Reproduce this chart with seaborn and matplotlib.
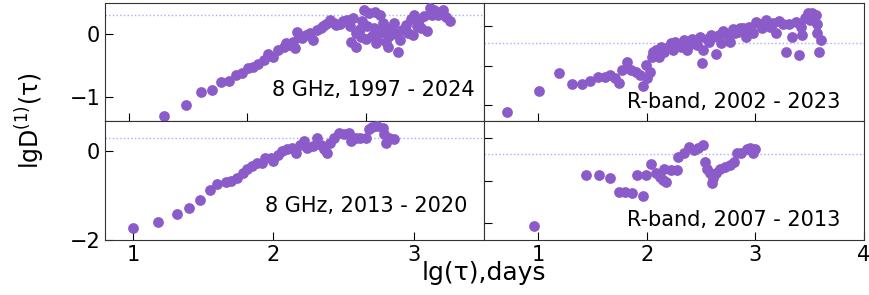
import matplotlib
matplotlib.use("Agg")
import matplotlib.pyplot as plt
import numpy as np
import pandas as pd
import seaborn as sns

# 8 GHz, 1997 - 2024
lg_tau_8a = [1.30, 1.48, 1.61, 1.70, 1.78, 1.85, 1.91, 1.96, 2.01, 2.05, 2.09, 2.14,
             2.18, 2.22, 2.26, 2.31, 2.35, 2.39, 2.42, 2.40, 2.46, 2.50, 2.56, 2.59,
             2.64, 2.70, 2.75, 2.81, 2.87, 2.89, 2.92, 2.88, 2.92, 2.99, 3.03, 3.08,
             3.12, 3.01, 3.05, 3.09, 3.12, 3.15, 3.19, 3.20, 3.24, 3.27, 3.29, 3.31,
             3.34, 3.40, 3.41, 3.45, 3.47, 3.52, 3.54, 3.58, 3.61, 3.65, 3.68, 3.71,
             2.33, 2.44, 2.53, 2.62, 2.67, 2.73, 2.78, 2.84, 2.95, 2.97, 3.00, 3.07,
             3.14, 3.17, 3.22, 3.26, 3.36, 3.38, 3.43, 3.49, 3.56, 2.96, 3.10, 3.18]
lgD_8a = [-1.30, -1.12, -0.92, -0.89, -0.76, -0.74, -0.65, -0.62, -0.54, -0.52, -0.47, -0.41,
          -0.32, -0.36, -0.25, -0.20, -0.17, -0.12, 0.03, -0.23, -0.07, -0.02, -0.10, 0.06,
          0.12, 0.22, 0.14, 0.20, 0.12, 0.25, 0.01, -0.12, -0.20, 0.38, 0.33, 0.35,
          0.30, 0.12, -0.04, -0.15, 0.01, 0.17, -0.20, -0.04, 0.17, -0.28, -0.10, 0.06,
          0.14, -0.02, 0.30, 0.22, 0.09, 0.04, 0.41, 0.38, 0.30, 0.38, 0.27, 0.20,
          -0.15, -0.05, 0.02, 0.10, 0.16, 0.18, 0.16, 0.22, 0.08, 0.20, -0.08, 0.10,
          0.05, -0.12, 0.08, 0.00, 0.02, 0.24, 0.12, 0.28, 0.30, -0.05, -0.10, 0.10]

# 8 GHz, 2013 - 2020
lg_tau_8b = [1.00, 1.18, 1.31, 1.40, 1.48, 1.55, 1.60, 1.66, 1.70, 1.74, 1.78, 1.81,
             1.85, 1.88, 1.92, 1.94, 1.98, 2.00, 2.03, 2.06, 2.10, 2.13, 2.16, 2.19,
             2.22, 2.24, 2.28, 2.31, 2.34, 2.36, 2.38, 2.40, 2.43, 2.47, 2.50, 2.54,
             2.55, 2.59, 2.62, 2.66, 2.68, 2.70, 2.74, 2.78, 2.79, 2.80, 2.82, 2.86]
lgD_8b = [-1.74, -1.59, -1.42, -1.27, -1.10, -0.87, -0.73, -0.70, -0.66, -0.61, -0.49, -0.40,
          -0.34, -0.26, -0.26, -0.15, -0.15, -0.23, -0.08, 0.00, 0.04, 0.08, -0.04, 0.15,
          0.23, 0.08, 0.11, 0.30, 0.15, 0.04, -0.04, 0.19, 0.30, 0.42, 0.38, 0.42,
          0.23, 0.30, 0.30, 0.30, 0.49, 0.55, 0.57, 0.53, 0.38, 0.19, 0.30, 0.27]

# R-band, 2002 - 2023
lg_tau_Ra = [0.71, 1.01, 1.19, 1.31, 1.40, 1.48, 1.55, 1.61, 1.66, 1.71, 1.74, 1.77,
             1.82, 1.85, 1.90, 1.94, 1.96, 1.99, 2.00, 2.03, 2.05, 2.06, 2.11, 2.16,
             2.19, 2.22, 2.26, 2.31, 2.34, 2.37, 2.42, 2.46, 2.49, 2.51, 2.52, 2.57,
             2.61, 2.64, 2.68, 2.72, 2.77, 2.81, 2.86, 2.91, 2.94, 2.98, 3.01, 3.06,
             3.10, 3.13, 3.19, 3.28, 3.25, 3.31, 3.34, 3.40, 3.42, 3.43, 3.48, 3.52,
             3.56, 3.57, 3.57, 3.59, 3.60, 3.50, 2.08, 2.13, 2.24, 2.29, 2.39, 2.44,
             2.55, 2.59, 2.66, 2.70, 2.75, 2.79, 2.84, 2.89, 2.96, 3.04, 3.16, 3.22,
             3.37, 3.46, 3.54]
lgD_Ra = [-1.08, -0.82, -0.60, -0.73, -0.73, -0.70, -0.65, -0.65, -0.62, -0.66, -0.72, -0.55,
          -0.45, -0.56, -0.58, -0.62, -0.76, -0.49, -0.66, -0.58, -0.39, -0.33, -0.39, -0.33,
          -0.28, -0.22, -0.20, -0.26, -0.18, -0.30, -0.16, -0.24, -0.14, -0.47, -0.30, -0.20,
          -0.14, -0.35, -0.22, -0.09, -0.20, -0.09, -0.03, -0.14, -0.01, -0.09, 0.05, -0.03,
          0.08, -0.01, -0.09, -0.33, 0.03, 0.03, -0.14, -0.37, -0.01, -0.11, 0.16, 0.16,
          0.14, 0.03, -0.09, -0.33, -0.18, 0.08, -0.30, -0.26, -0.30, -0.25, -0.24, -0.20,
          -0.16, -0.12, -0.12, -0.06, -0.12, -0.04, -0.08, -0.02, -0.05, 0.02, 0.04, 0.06,
          0.05, 0.10, 0.12]

# R-band, 2007 - 2013
lg_tau_Rb = [0.96, 1.44, 1.56, 1.66, 1.74, 1.80, 1.86, 1.96, 1.91, 1.99, 2.04, 2.08,
             2.12, 2.16, 2.18, 2.15, 2.22, 2.28, 2.29, 2.34, 2.39, 2.43, 2.47, 2.52,
             2.54, 2.55, 2.58, 2.60, 2.61, 2.64, 2.67, 2.72, 2.77, 2.80, 2.83, 2.87,
             2.92, 2.95, 2.98, 3.00]
lgD_Rb = [-1.04, -0.44, -0.44, -0.47, -0.64, -0.64, -0.65, -0.68, -0.44, -0.43, -0.30, -0.41,
          -0.46, -0.37, -0.52, -0.49, -0.38, -0.38, -0.22, -0.18, -0.10, -0.14, -0.12, -0.08,
          -0.28, -0.36, -0.41, -0.53, -0.47, -0.41, -0.36, -0.34, -0.32, -0.28, -0.18, -0.18,
          -0.13, -0.12, -0.18, -0.13]

labels = ["8 GHz, 1997 - 2024", "8 GHz, 2013 - 2020",
          "R-band, 2002 - 2023", "R-band, 2007 - 2013"]
saturation = [0.3, 0.3, -0.21, -0.19]

point_color = "#8a5bc9"

fig = plt.figure(figsize=(8.69, 2.95), dpi=100)
l, m, r = 0.1208, 0.557, 0.9942
b, c, t = 0.1864, 0.5898, 0.9898
ax_tl = fig.add_axes([l, c, m - l, t - c])
ax_bl = fig.add_axes([l, b, m - l, c - b])
ax_tr = fig.add_axes([m, c, r - m, t - c])
ax_br = fig.add_axes([m, b, r - m, c - b])

panels = [
    (ax_tl, lg_tau_8a, lgD_8a, labels[0], saturation[0], (0.974, 0.26)),
    (ax_bl, lg_tau_8b, lgD_8b, labels[1], saturation[1], (0.955, 0.29)),
    (ax_tr, lg_tau_Ra, lgD_Ra, labels[2], saturation[2], (0.937, 0.16)),
    (ax_br, lg_tau_Rb, lgD_Rb, labels[3], saturation[3], (0.937, 0.17)),
]

for ax, xs, ys, lab, sat, pos in panels:
    df = pd.DataFrame({"x": xs, "y": ys})
    ax.axhline(sat, color="#a8acff", lw=1.0, ls=":", zorder=1)
    sns.scatterplot(data=df, x="x", y="y", ax=ax, color=point_color, s=60,
                    linewidth=0, zorder=3, legend=False)
    ax.text(pos[0], pos[1], lab, transform=ax.transAxes, ha="right", va="center",
            fontsize=15)
    ax.set_xlabel("")
    ax.set_ylabel("")
    ax.tick_params(direction="in", length=6, labelsize=15)
    for sp in ax.spines.values():
        sp.set_color("#333333")

ax_tl.set_xlim(0.8, 4.0)
ax_tl.set_ylim(-1.38, 0.49)
ax_tl.set_xticks([1, 2, 3])
ax_tl.set_yticks([-1, 0])
ax_tl.tick_params(labelbottom=False)

ax_bl.set_xlim(0.8, 3.5)
ax_bl.set_ylim(-2.0, 0.68)
ax_bl.set_xticks([1, 2, 3])
ax_bl.set_yticks([-2, 0])

ax_tr.set_xlim(0.5, 4.0)
ax_tr.set_ylim(-1.2, 0.29)
ax_tr.set_xticks([1, 2, 3])
ax_tr.set_yticks([-1, -0.5, 0])
ax_tr.tick_params(labelbottom=False, labelleft=False)

ax_br.set_xlim(0.5, 4.0)
ax_br.set_ylim(-1.2, 0.2)
ax_br.set_xticks([1, 2, 3, 4])
ax_br.set_yticks([-1, -0.5, 0])
ax_br.tick_params(labelleft=False)

fig.text(0.557, 0.075, "lg(τ),days", ha="center", va="center", fontsize=18)
fig.text(0.035, 0.59, "lgD$^{(1)}$(τ)", ha="center", va="center",
         rotation=90, fontsize=17)

fig.savefig("out.png", dpi=100)
